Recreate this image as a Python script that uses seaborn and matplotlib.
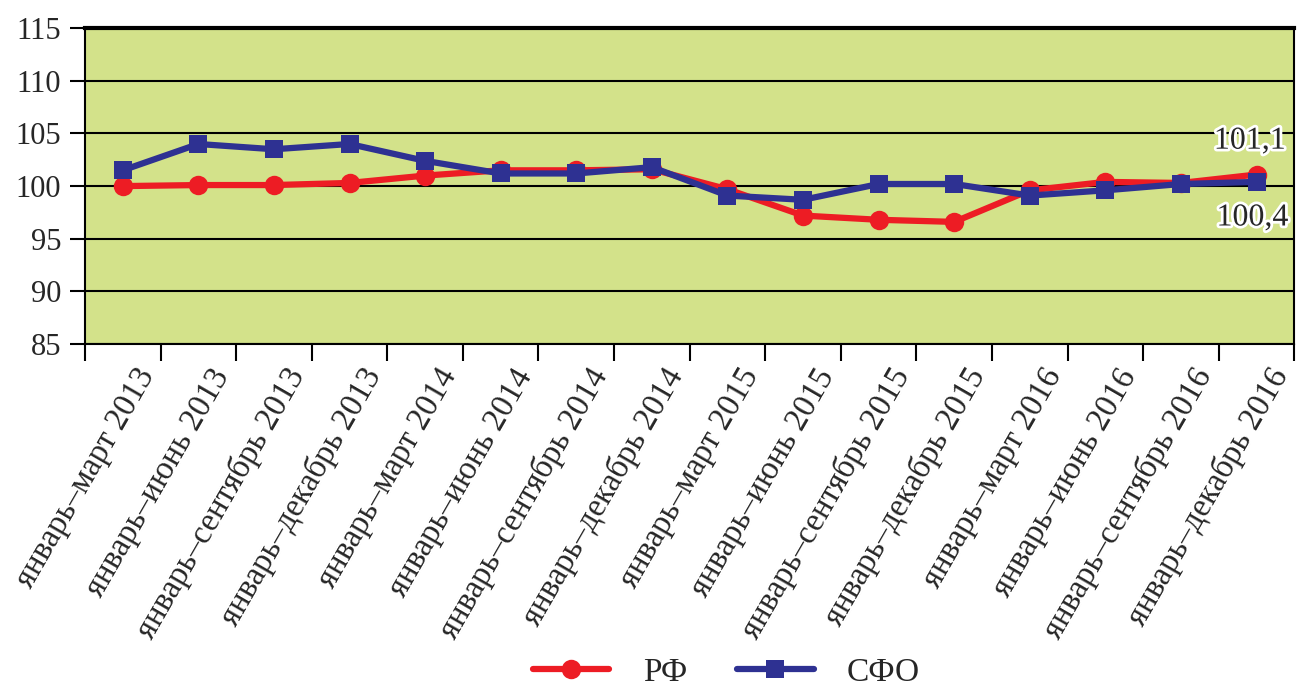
import pandas as pd
import matplotlib.pyplot as plt
import seaborn as sns
import matplotlib.patheffects as pe
import matplotlib.transforms as mtransforms
import numpy as np

periods = [
    'январь–март 2013', 'январь–июнь 2013', 'январь–сентябрь 2013', 'январь–декабрь 2013',
    'январь–март 2014', 'январь–июнь 2014', 'январь–сентябрь 2014', 'январь–декабрь 2014',
    'январь–март 2015', 'январь–июнь 2015', 'январь–сентябрь 2015', 'январь–декабрь 2015',
    'январь–март 2016', 'январь–июнь 2016', 'январь–сентябрь 2016', 'январь–декабрь 2016',
]
rf = [100.0, 100.1, 100.1, 100.3, 101.0, 101.5, 101.5, 101.6,
      99.7, 97.2, 96.8, 96.6, 99.6, 100.4, 100.3, 101.1]
sfo = [101.5, 104.0, 103.5, 104.0, 102.4, 101.2, 101.2, 101.8,
       99.1, 98.7, 100.2, 100.2, 99.1, 99.6, 100.2, 100.4]
series_names = ['РФ', 'СФО']

df = pd.DataFrame({
    'x': list(range(len(periods))) * 2,
    'value': rf + sfo,
    'series': [series_names[0]] * len(rf) + [series_names[1]] * len(sfo),
})

sns.set_style("white")
plt.rcParams['font.family'] = ['Liberation Serif', 'DejaVu Serif']

fig = plt.figure(figsize=(12.97, 6.88), dpi=100)
ax = fig.add_axes([0.0655, 0.5, 0.9325, 0.459])
ax.set_facecolor('#d3e28a')

palette = {'РФ': '#ed1c24', 'СФО': '#2e3192'}
markers = {'РФ': 'o', 'СФО': 's'}
sizes = {'РФ': 14, 'СФО': 13}

for name in series_names:
    sub = df[df['series'] == name]
    sns.lineplot(data=sub, x='x', y='value', ax=ax, color=palette[name],
                 marker=markers[name], markersize=sizes[name], linewidth=4.5,
                 markeredgewidth=0, label=name, legend=False)

ax.set_ylim(85, 115)
ax.set_yticks(range(85, 116, 5))
ax.set_xlim(-0.5, len(periods) - 0.5)
ax.yaxis.grid(True, color='black', linewidth=1.5)
ax.set_axisbelow(True)

# подписи стоят у правой засечки своей категории, как в Excel
ax.set_xticks(np.arange(-0.5, len(periods), 1.0))
ax.set_xticklabels([''] + periods, rotation=60, ha='right', va='bottom',
                   rotation_mode='anchor', fontsize=23.5)
shift = mtransforms.ScaledTranslation(4 / 72, 0, fig.dpi_scale_trans)
for lbl in ax.get_xticklabels():
    lbl.set_transform(lbl.get_transform() + shift)
ax.tick_params(axis='x', direction='out', length=12, width=1.5, pad=13,
               bottom=True, color='black')
ax.tick_params(axis='y', direction='out', length=11, width=1.5, pad=6,
               left=True, labelsize=22, color='black')
ax.set_xlabel('')
ax.set_ylabel('')
for s in ax.spines.values():
    s.set_color('black')
    s.set_linewidth(1.5)
ax.spines['top'].set_linewidth(3)

halo = [pe.withStroke(linewidth=4, foreground='white')]
last = len(periods) - 1
ax.annotate(f'{rf[-1]:.1f}'.replace('.', ','), (last, rf[-1]), xytext=(-5, 24),
            textcoords='offset points', ha='center', va='center', fontsize=23,
            path_effects=halo)
ax.annotate(f'{sfo[-1]:.1f}'.replace('.', ','), (last, sfo[-1]), xytext=(-3, -26),
            textcoords='offset points', ha='center', va='center', fontsize=23,
            path_effects=halo)

handles, labels = ax.get_legend_handles_labels()
fig.legend(handles, labels, loc='center', bbox_to_anchor=(0.56, 0.022), ncol=2,
           frameon=False, fontsize=24, handlelength=2.3, columnspacing=1.5,
           handletextpad=1.0)

fig.savefig('out.png', dpi=100)
